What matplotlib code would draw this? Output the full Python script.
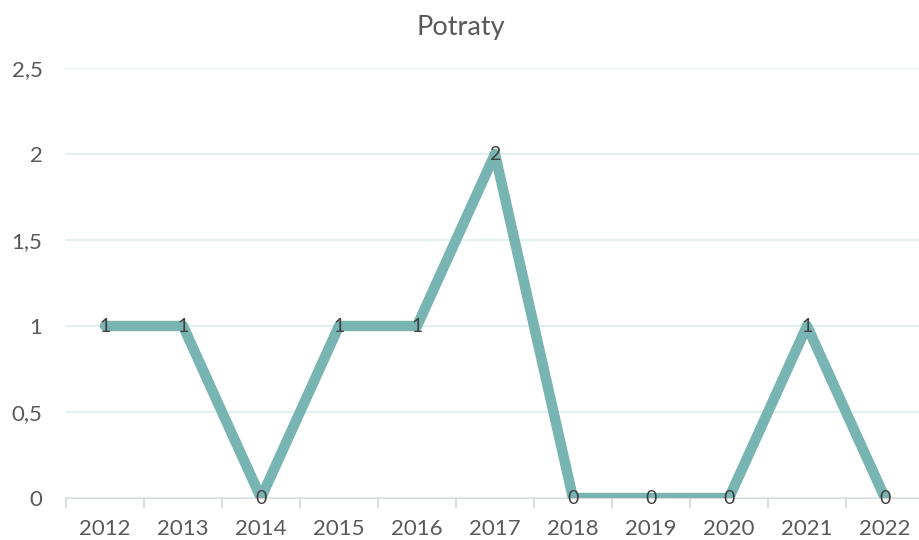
import matplotlib
matplotlib.use("Agg")
import matplotlib.pyplot as plt
from matplotlib.ticker import FuncFormatter

years = ["2012", "2013", "2014", "2015", "2016", "2017", "2018", "2019", "2020", "2021", "2022"]
values = [1, 1, 0, 1, 1, 2, 0, 0, 0, 1, 0]
yticks = [0, 0.5, 1, 1.5, 2, 2.5]
title = "Potraty"

plt.rcParams['font.family'] = ['Lato', 'DejaVu Sans']

fig = plt.figure(figsize=(9.19, 5.40), dpi=100)
ax = fig.add_axes([66/919, 1-498/540, (924-66)/919, (498-68)/540])

x = list(range(len(years)))
ax.plot(x, values, color='#78b4b1', lw=7.5,
        solid_capstyle='round', solid_joinstyle='round', zorder=3)
for xi, v in zip(x, values):
    ax.text(xi, v, str(v), ha='center', va='center', fontsize=14,
            color='#404040', zorder=4)

ax.set_xlim(-0.5, len(years) - 0.5)
ax.set_ylim(0, 2.5)
ax.set_yticks(yticks)
ax.yaxis.set_major_formatter(FuncFormatter(lambda v, p: f"{v:g}".replace('.', ',')))
ax.set_xticks(x)
ax.set_xticklabels(years)
ax.set_xticks([i - 0.5 for i in range(len(years) + 1)], minor=True)

ax.grid(axis='y', color='#dcefef', lw=1.3, zorder=0)
for s in ['top', 'right', 'left']:
    ax.spines[s].set_visible(False)
ax.spines['bottom'].set_color('#d9d9d9')
ax.spines['bottom'].set_linewidth(1.3)
ax.spines['bottom'].set_zorder(1)

ax.tick_params(axis='x', which='major', length=0, pad=15, labelsize=16, labelcolor='#595959')
ax.tick_params(axis='x', which='minor', length=7, width=1.3, color='#d9d9d9')
ax.tick_params(axis='y', length=0, pad=17, labelsize=16, labelcolor='#595959')

fig.text(461/919, 1-27/540, title, ha='center', va='center', fontsize=19.5, color='#595959')

fig.savefig('out.png', dpi=100)
